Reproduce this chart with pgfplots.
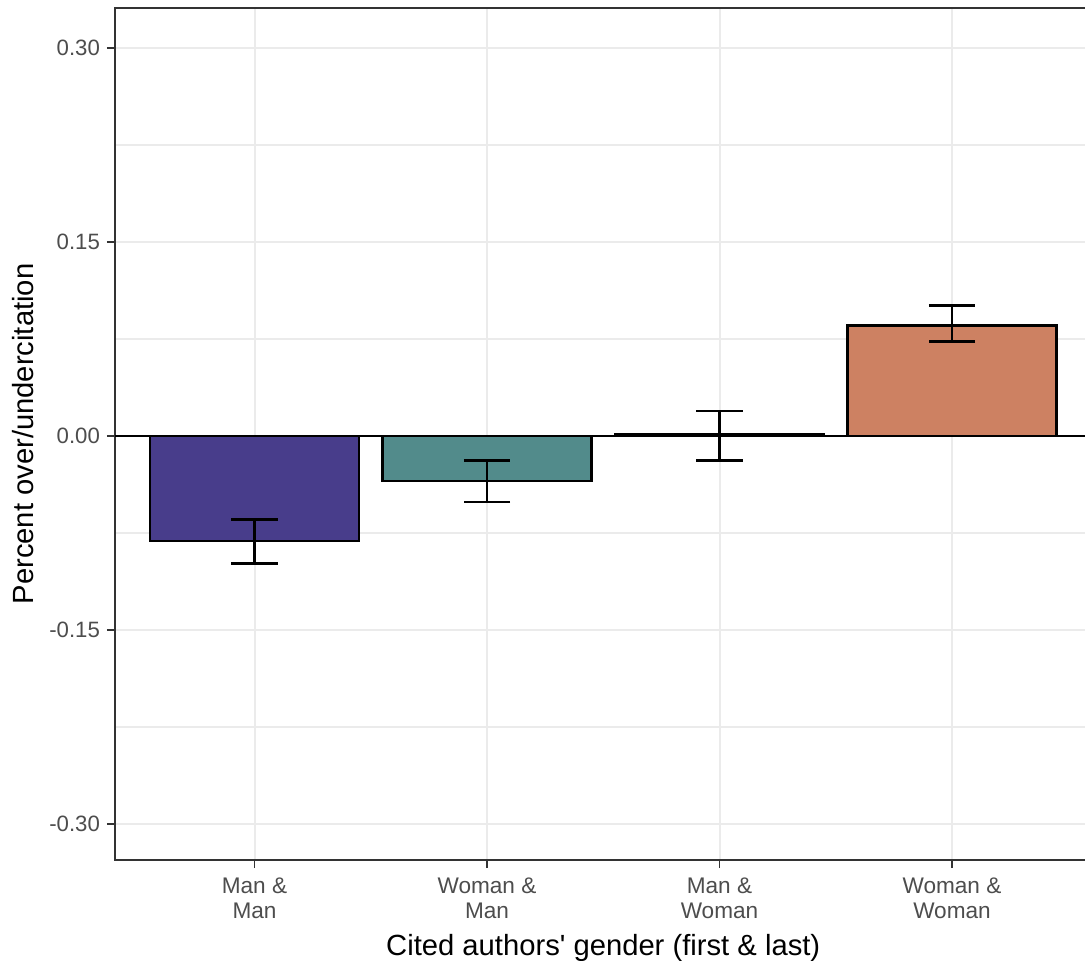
\documentclass[border=0pt]{standalone}
\usepackage{pgfplots}
\pgfplotsset{compat=1.18}
\usepackage{fontspec}
\setmainfont{Liberation Sans}
\definecolor{c1}{HTML}{483D8B}
\definecolor{c2}{HTML}{528B8B}
\definecolor{c3}{HTML}{CD8162}
\definecolor{gridc}{HTML}{EBEBEB}
\definecolor{txt}{HTML}{4D4D4D}
\definecolor{bord}{HTML}{333333}
\begin{document}
\begin{tikzpicture}
\begin{axis}[
  scale only axis, width=488.25pt, height=426pt,
  xmin=0.4, xmax=4.6, ymin=-0.328, ymax=0.331,
  xtick={1,2,3,4},
  xticklabels={{Man \&\\Man},{Woman \&\\Man},{Man \&\\Woman},{Woman \&\\Woman}},
  xticklabel style={align=center, text=txt, font=\fontsize{11.3}{12.6}\selectfont, yshift=-1.5pt},
  ytick={-0.3,-0.15,0,0.15,0.3},
  yticklabels={-0.30,-0.15,0.00,0.15,0.30},
  yticklabel style={text=txt, font=\fontsize{11.1}{12}\selectfont},
  minor ytick={-0.225,-0.075,0.075,0.225},
  grid=both,
  major grid style={gridc, line width=1pt},
  minor grid style={gridc, line width=0.8pt},
  axis line style={bord, line width=0.7pt},
  tick style={bord, line width=0.9pt},
  tick align=outside, tick pos=left,
  major tick length=4pt, minor tick length=0pt,
  xlabel={Cited authors\textquotesingle\ gender (first \& last)},
  ylabel={Percent over/undercitation},
  label style={font=\fontsize{14.6}{16}\selectfont, text=black},
  xlabel style={yshift=-0.5pt},
  ylabel style={yshift=1pt},
  error bars/error bar style={black, line width=1.3pt},
  error bars/error mark options={rotate=90, mark size=11.6pt, line width=1.3pt, black},
]
\addplot[ybar, bar width=0.9, bar shift=0pt, fill=c1, draw=black, line width=1.3pt,
  error bars/.cd, y dir=both, y explicit]
  coordinates {(1,-0.0812) += (0,0.0168) -= (0,0.0175)};
\addplot[ybar, bar width=0.9, bar shift=0pt, fill=c2, draw=black, line width=1.3pt,
  error bars/.cd, y dir=both, y explicit]
  coordinates {(2,-0.0348) += (0,0.0160) -= (0,0.0162)};
\addplot[ybar, bar width=0.9, bar shift=0pt, fill=white, draw=black, line width=1.3pt,
  error bars/.cd, y dir=both, y explicit]
  coordinates {(3,0.0013) += (0,0.0180) -= (0,0.0201)};
\addplot[ybar, bar width=0.9, bar shift=0pt, fill=c3, draw=black, line width=1.3pt,
  error bars/.cd, y dir=both, y explicit]
  coordinates {(4,0.0856) += (0,0.0151) -= (0,0.0127)};
\addplot[black, line width=1.3pt, forget plot] coordinates {(0.4,0) (4.6,0)};
\end{axis}
\pgfresetboundingbox
\path (-57.5pt,-50pt) rectangle (485pt,430pt);
\end{tikzpicture}
\end{document}
